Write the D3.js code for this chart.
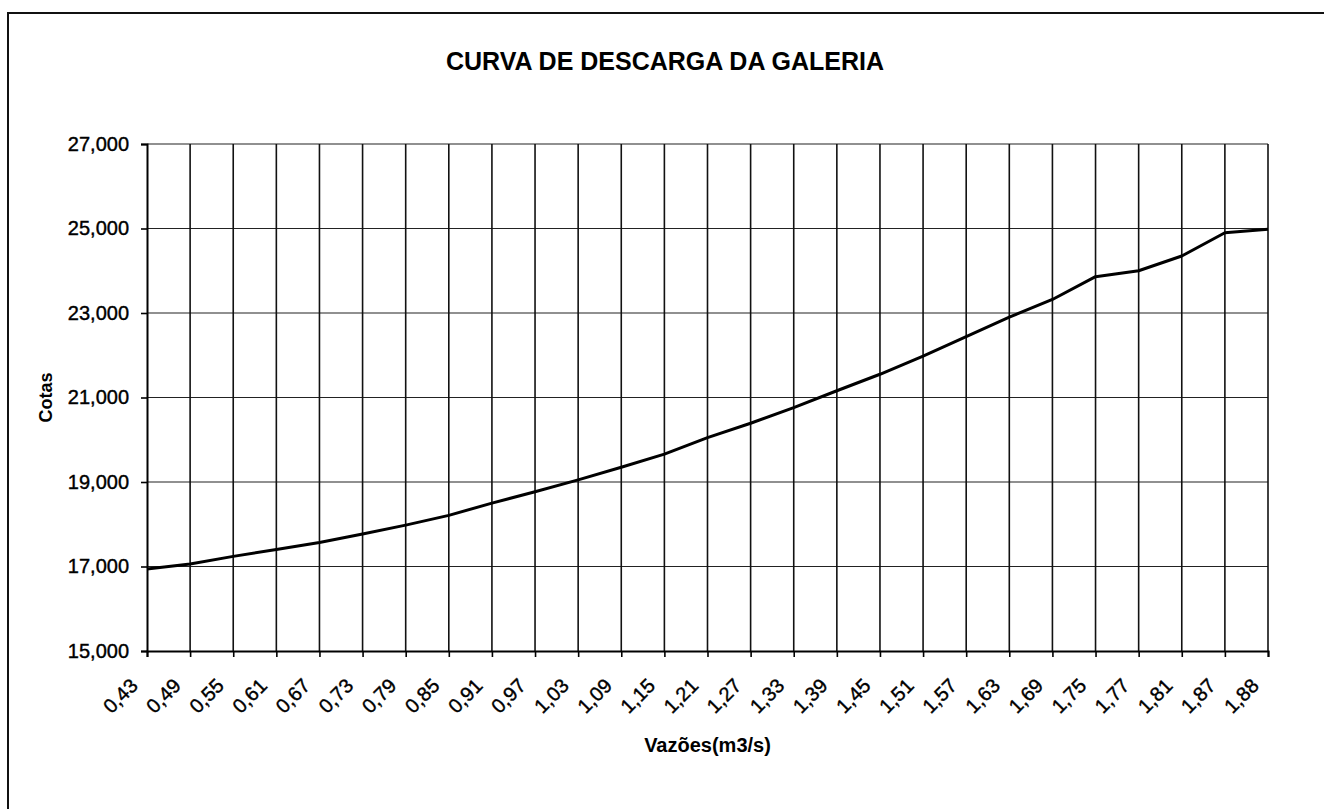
<!DOCTYPE html>
<html>
<head>
<meta charset="utf-8">
<script src="https://cdn.jsdelivr.net/npm/d3@7"></script>
<style>
  body { margin: 0; background: #fff; }
  svg { display: block; font-family: 'Liberation Sans', Arial, sans-serif; }
</style>
</head>
<body>
<div id="graph"></div>
<script>
// vazoes (m3/s) as printed on the axis, cotas
var vazoes = ['0,43','0,49','0,55','0,61','0,67','0,73','0,79','0,85','0,91','0,97',
  '1,03','1,09','1,15','1,21','1,27','1,33','1,39','1,45','1,51','1,57',
  '1,63','1,69','1,75','1,77','1,81','1,87','1,88']

var cotas = [16.94, 17.06, 17.24, 17.40, 17.57, 17.77, 17.98, 18.21, 18.50, 18.77,
  19.05, 19.35, 19.66, 20.05, 20.39, 20.76, 21.16, 21.55, 21.98, 22.44,
  22.90, 23.32, 23.86, 24.00, 24.35, 24.90, 24.98]

var yTicks = [15, 17, 19, 21, 23, 25, 27]

var title = 'CURVA DE DESCARGA DA GALERIA'

var W = 1324, H = 809
// plot box (note: "top" is taken by window.top, so keep these in an object)
var m = {left: 147, right: 1268, top: 144, bottom: 651}

var ptBR = d3.formatLocale({decimal: ',', thousands: '.', grouping: [3], currency: ['R$', '']})
var fmt = ptBR.format('.3f')

var svg = d3.select('#graph').append('svg')
  .attr('width', W)
  .attr('height', H)

// outer frame (right/bottom edges run off the page)
svg.append('path')
  .attr('d', 'M8,' + (H + 5) + 'V13H' + (W + 5))
  .attr('fill', 'none')
  .attr('stroke', '#111')
  .attr('stroke-width', 2)

var x = d3.scalePoint().domain(vazoes).range([m.left, m.right]).padding(0)
var y = d3.scaleLinear().domain([15, 27]).range([m.bottom, m.top])

// horizontal grid
svg.append('g')
  .selectAll('line').data(yTicks.slice(1)).join('line')
  .attr('x1', m.left).attr('x2', m.right)
  .attr('y1', d => y(d)).attr('y2', d => y(d))
  .attr('stroke', '#222')
  .attr('stroke-width', 1.2)

// vertical grid, one per category
svg.append('g')
  .selectAll('line').data(vazoes.slice(1)).join('line')
  .attr('x1', d => x(d)).attr('x2', d => x(d))
  .attr('y1', m.top).attr('y2', m.bottom)
  .attr('stroke', '#111')
  .attr('stroke-width', 1.6)

var yAxis = svg.append('g')
  .attr('transform', 'translate(' + m.left + ',0)')
  .call(d3.axisLeft(y).tickValues(yTicks).tickFormat(fmt).tickSize(6).tickPadding(12))

var xAxis = svg.append('g')
  .attr('transform', 'translate(0,' + m.bottom + ')')
  .call(d3.axisBottom(x).tickSize(6).tickFormat(d => ''))

svg.selectAll('.domain').attr('stroke', '#000').attr('stroke-width', 2)
svg.selectAll('.tick line').attr('stroke', '#000').attr('stroke-width', 1.6)

// scanned print looks a little heavy, so give the labels a hairline stroke
yAxis.selectAll('text')
  .attr('font-size', 20)
  .attr('fill', '#000')
  .attr('stroke', '#000')
  .attr('stroke-width', 0.4)
  .attr('font-family', "'Liberation Sans', Arial, sans-serif")

// rotated category labels
svg.append('g')
  .selectAll('text').data(vazoes).join('text')
  .attr('transform', d => 'translate(' + (x(d) - 8) + ',' + 687 + ') rotate(-45)')
  .attr('text-anchor', 'end')
  .attr('font-size', 20)
  .attr('fill', '#000')
  .attr('stroke', '#000')
  .attr('stroke-width', 0.4)
  .text(d => d)

var line = d3.line()
  .x((d, i) => x(vazoes[i]))
  .y(d => y(d))

svg.append('path')
  .datum(cotas)
  .attr('d', line)
  .attr('fill', 'none')
  .attr('stroke', '#000')
  .attr('stroke-width', 3)
  .attr('stroke-linejoin', 'round')

svg.append('text')
  .attr('x', 665).attr('y', 70)
  .attr('text-anchor', 'middle')
  .attr('font-size', 25)
  .attr('font-weight', 'bold')
  .text(title)

svg.append('text')
  .attr('transform', 'translate(52,' + ((m.top + m.bottom) / 2) + ') rotate(-90)')
  .attr('text-anchor', 'middle')
  .attr('font-size', 18)
  .attr('font-weight', 'bold')
  .text('Cotas')

svg.append('text')
  .attr('x', (m.left + m.right) / 2).attr('y', 752)
  .attr('text-anchor', 'middle')
  .attr('font-size', 20)
  .attr('font-weight', 'bold')
  .text('Vazões(m3/s)')
</script>
</body>
</html>
